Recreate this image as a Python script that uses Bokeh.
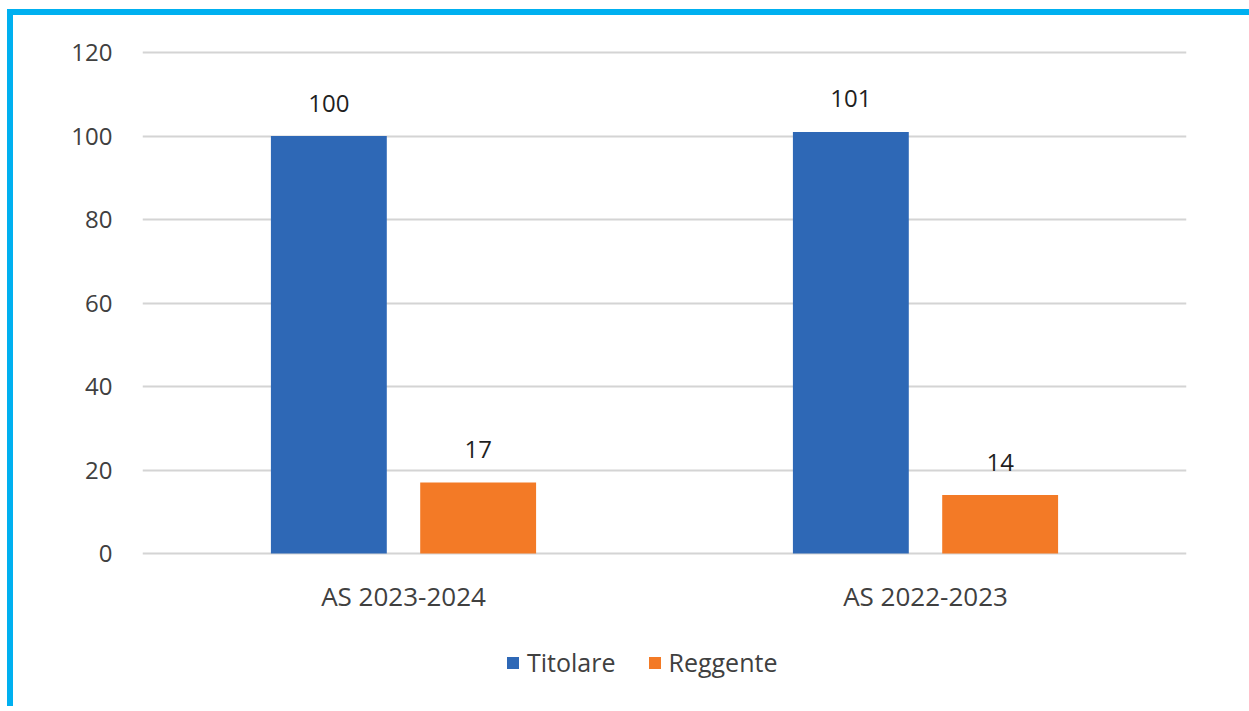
from bokeh.plotting import figure
from bokeh.models import ColumnDataSource, FactorRange, FixedTicker, Legend, LegendItem, Range1d
from bokeh.transform import dodge
from bokeh.core.properties import value
from bokeh.embed import file_html
from bokeh.resources import INLINE

categories = ["AS 2023-2024", "AS 2022-2023"]
titolare = [100, 101]
reggente = [17, 14]
series_names = ["Titolare", "Reggente"]
y_ticks = [0, 20, 40, 60, 80, 100, 120]

BLUE = "#2E68B6"
ORANGE = "#F37A26"
FONT = "Open Sans"

src = ColumnDataSource(dict(cat=categories, tit=titolare, reg=reggente,
                            tit_lbl=[str(v) for v in titolare],
                            reg_lbl=[str(v) for v in reggente]))

# frame extends below zero so the legend can sit inside it
p = figure(x_range=FactorRange(*categories, range_padding=0), y_range=Range1d(-36.65, 120.5),
           frame_width=1044, frame_height=656, output_backend="svg", toolbar_location=None,
           min_border_left=129, min_border_right=63, min_border_top=35,
           min_border_bottom=0)
p.styles = {"border-top": "6px solid #00B0F0", "border-left": "6px solid #00B0F0",
            "margin-left": "7px", "margin-top": "9px"}
p.outline_line_color = None
p.background_fill_color = "white"
p.border_fill_color = "white"

r1 = p.vbar(x=dodge("cat", -0.143, range=p.x_range), top="tit", bottom=0, width=0.222,
            source=src, color=BLUE, line_color=None)
r2 = p.vbar(x=dodge("cat", 0.143, range=p.x_range), top="reg", bottom=0, width=0.222,
            source=src, color=ORANGE, line_color=None)

p.text(x=dodge("cat", -0.143, range=p.x_range), y="tit", text="tit_lbl", source=src,
       text_align="center", text_baseline="middle", y_offset=-33,
       text_font=value(FONT), text_font_size="24px", text_color="#1f1f1f")
p.text(x=dodge("cat", 0.143, range=p.x_range), y="reg", text="reg_lbl", source=src,
       text_align="center", text_baseline="middle", y_offset=-33,
       text_font=value(FONT), text_font_size="24px", text_color="#1f1f1f")

# category labels under the zero line
p.text(x="cat", y=0, text="cat", source=src,
       text_align="center", text_baseline="middle", y_offset=42,
       text_font=value(FONT), text_font_size="26px", text_color="#404040")

p.xaxis.visible = False
p.yaxis.ticker = FixedTicker(ticks=y_ticks)
p.ygrid.ticker = FixedTicker(ticks=y_ticks)
p.xgrid.grid_line_color = None
p.ygrid.grid_line_color = "#d4d4d4"
p.ygrid.grid_line_width = 2

ax = p.yaxis[0]
ax.axis_line_color = None
ax.major_tick_line_color = None
ax.minor_tick_line_color = None
ax.major_tick_out = 0
ax.major_tick_in = 0
ax.major_label_text_font = FONT
ax.major_label_text_font_size = "24px"
ax.major_label_text_color = "#404040"
ax.major_label_standoff = 30

legend = Legend(items=[LegendItem(label=series_names[0], renderers=[r1]),
                       LegendItem(label=series_names[1], renderers=[r2])],
                location=(363, 27), orientation="horizontal",
                glyph_width=15, glyph_height=15, label_standoff=7, spacing=31,
                padding=0, margin=0, border_line_color=None,
                background_fill_alpha=0,
                label_text_font=FONT, label_text_font_size="25px",
                label_text_color="#404040")
p.add_layout(legend, "center")

open("out.html", "w").write(file_html(p, INLINE))
